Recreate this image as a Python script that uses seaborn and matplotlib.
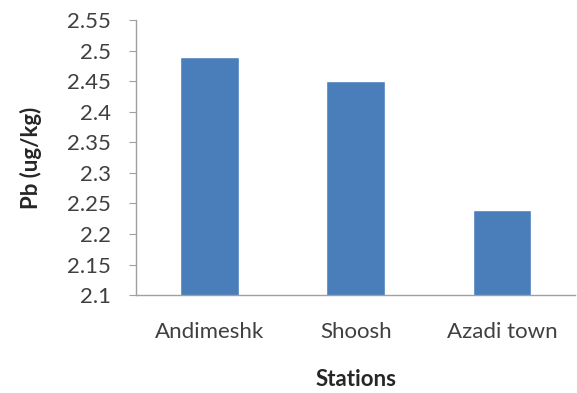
import numpy as np
import pandas as pd
import seaborn as sns
from matplotlib import pyplot as plt

stations = ["Andimeshk", "Shoosh", "Azadi town"]
pb_values = [2.49, 2.45, 2.24]
y_ticks = [2.1, 2.15, 2.2, 2.25, 2.3, 2.35, 2.4, 2.45, 2.5, 2.55]

df = pd.DataFrame({"Stations": stations, "Pb": pb_values})

sns.set_style("white")
plt.rcParams['font.family'] = ['Lato', 'DejaVu Sans']

fig = plt.figure(figsize=(5.77, 3.93), dpi=100)
ax = fig.add_axes([0.236, 0.249, 0.761, 0.70])
sns.barplot(data=df, x="Stations", y="Pb", color="#4a7ebb", width=0.4,
            saturation=1, ax=ax)

ax.set_ylim(2.1, 2.55)
ax.set_yticks(y_ticks)
ax.set_yticklabels([f"{t:g}" for t in y_ticks], fontsize=16, color="#404040")
ax.set_xlim(-0.5, 2.5)
ax.set_xticks([0, 1, 2])
ax.set_xticklabels(stations, fontsize=16, color="#404040")
ax.tick_params(axis='x', length=0, pad=19)
ax.set_xticks([-0.5, 0.5, 1.5, 2.5], minor=True)
ax.tick_params(axis='x', which='minor', length=5, color="#a0a0a0", direction='out')
ax.tick_params(axis='y', length=5, color="#a0a0a0", direction='out', left=True, pad=13)

for s in ["top", "right"]:
    ax.spines[s].set_visible(False)
for s in ["left", "bottom"]:
    ax.spines[s].set_color("#a0a0a0")
    ax.spines[s].set_linewidth(1)

ax.set_ylabel("Pb (ug/kg)", fontsize=16, fontweight='bold', labelpad=18)
ax.set_xlabel("Stations", fontsize=16, fontweight='bold', labelpad=20)

fig.savefig("out.png", dpi=100)
